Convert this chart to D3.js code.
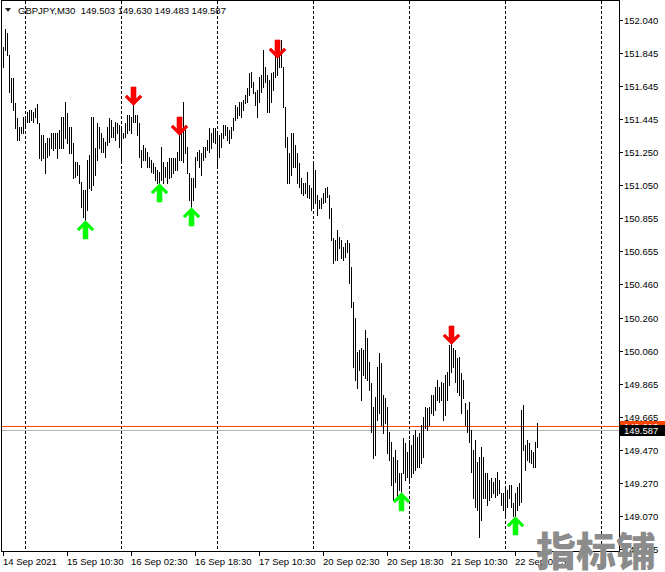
<!DOCTYPE html>
<html><head><meta charset="utf-8">
<script src="https://cdn.jsdelivr.net/npm/d3@7"></script>
<style>html,body{margin:0;padding:0;background:#fff;overflow:hidden}svg{display:block}</style>
</head><body>
<svg id="c" width="665" height="572"></svg>
<script>
// ---- data (GBPJPY M30, bar high / low) ----
const highs = [
151.878,151.986,151.962,151.831,151.693,151.693,151.543,151.454,151.400,151.400,
151.460,151.454,151.490,151.501,151.501,151.490,151.513,151.537,151.424,151.352,
151.352,151.304,151.334,151.334,151.364,151.364,151.364,151.364,151.382,151.460,
151.460,151.549,151.484,151.400,151.400,151.304,151.190,151.190,151.172,151.071,
151.023,151.023,151.202,151.232,151.460,151.460,151.274,151.424,151.400,151.364,
151.334,151.310,151.400,151.454,151.442,151.400,151.430,151.424,151.412,151.394,
151.364,151.424,151.472,151.472,151.460,151.531,151.472,151.472,151.424,151.262,
151.292,151.274,151.250,151.220,151.202,151.184,151.160,151.142,151.130,151.280,
151.190,151.160,151.190,151.214,151.214,151.214,151.214,151.250,151.352,151.424,
151.549,151.382,151.280,151.124,151.094,151.094,151.220,151.250,151.262,151.244,
151.280,151.280,151.322,151.394,151.364,151.394,151.394,151.364,151.352,151.364,
151.412,151.412,151.400,151.382,151.400,151.454,151.531,151.519,151.549,151.549,
151.561,151.591,151.633,151.723,151.729,151.669,151.609,151.621,151.699,151.711,
151.860,151.759,151.711,151.681,151.723,151.729,151.842,151.813,151.860,151.920,
151.759,151.519,151.340,151.244,151.364,151.364,151.292,151.244,151.184,151.094,
151.065,151.065,151.130,151.053,151.035,151.184,151.142,150.993,150.963,150.975,
151.005,151.035,151.041,150.993,150.915,150.735,150.723,150.783,150.741,150.723,
150.682,150.706,150.723,150.706,150.562,150.353,150.256,150.053,150.065,150.077,
150.065,150.185,150.137,149.993,149.868,149.724,149.784,149.964,150.047,149.987,
149.796,149.778,149.724,149.575,149.515,149.425,149.467,149.407,149.329,149.329,
149.539,149.509,149.455,149.527,149.497,149.557,149.587,149.545,149.569,149.616,
149.664,149.724,149.718,149.724,149.796,149.796,149.844,149.886,149.844,149.874,
149.868,149.916,149.934,150.095,150.101,150.077,150.065,150.017,150.023,149.928,
149.886,149.748,149.706,149.754,149.587,149.467,149.527,149.395,149.425,149.485,
149.425,149.329,149.329,149.287,149.299,149.275,149.299,149.335,149.287,149.210,
149.210,149.245,149.227,149.257,149.257,149.150,149.210,149.245,149.269,149.706,
149.736,149.497,149.527,149.509,149.467,149.455,149.515,149.630
];
const lows = [
151.759,151.860,151.831,151.609,151.549,151.501,151.394,151.322,151.322,151.364,
151.364,151.400,151.430,151.430,151.442,151.430,151.460,151.424,151.214,151.202,
151.214,151.124,151.220,151.232,151.274,151.262,151.274,151.214,151.274,151.274,
151.274,151.334,151.304,151.244,151.244,151.094,151.100,151.112,151.065,150.921,
150.861,150.843,150.903,151.035,151.023,151.053,151.112,151.202,151.274,151.250,
151.250,151.220,151.292,151.310,151.340,151.340,151.322,151.364,151.280,151.202,
151.334,151.340,151.364,151.382,151.364,151.430,151.430,151.352,151.220,151.160,
151.202,151.202,151.160,151.160,151.130,151.124,151.083,151.065,151.065,151.083,
151.065,151.100,151.065,151.094,151.100,151.124,151.142,151.142,151.202,151.202,
151.190,151.244,151.124,150.963,150.921,150.963,151.041,151.202,151.160,151.112,
151.202,151.220,151.262,151.250,151.274,151.310,151.304,151.160,151.220,151.280,
151.334,151.352,151.322,151.304,151.334,151.382,151.442,151.454,151.472,151.460,
151.501,151.543,151.549,151.591,151.639,151.603,151.531,151.460,151.549,151.609,
151.639,151.669,151.490,151.490,151.549,151.621,151.699,151.711,151.759,151.759,
151.519,151.280,151.065,151.065,151.112,151.160,151.160,151.065,151.041,151.005,
150.993,151.005,150.981,150.975,150.903,150.921,150.945,150.873,150.915,150.915,
150.945,150.951,150.981,150.855,150.723,150.586,150.604,150.604,150.676,150.616,
150.604,150.622,150.652,150.466,150.323,149.964,149.886,149.838,149.945,149.766,
149.916,149.898,149.886,149.826,149.575,149.419,149.437,149.646,149.688,149.616,
149.569,149.628,149.449,149.407,149.257,149.168,149.275,149.168,149.227,149.215,
149.329,149.287,149.305,149.287,149.305,149.329,149.347,149.365,149.365,149.389,
149.425,149.599,149.587,149.616,149.688,149.676,149.706,149.766,149.754,149.766,
149.646,149.676,149.766,149.856,149.934,149.964,149.874,149.814,149.796,149.688,
149.778,149.616,149.575,149.515,149.335,149.180,149.126,149.108,148.946,149.048,
149.180,149.180,149.138,149.168,149.186,149.210,149.186,149.198,149.210,149.138,
149.108,149.078,149.126,149.180,149.126,149.072,149.072,149.108,149.138,149.156,
149.467,149.347,149.407,149.395,149.389,149.365,149.365,149.483
];
const xLabels = ["14 Sep 2021","15 Sep 10:30","16 Sep 02:30","16 Sep 18:30","17 Sep 10:30",
                 "20 Sep 02:30","20 Sep 18:30","21 Sep 10:30","22 Sep 02:30"];
const xLabelBars = [0,32,64,96,128,160,192,224,256];
const gridBars = [11,59,107,155,203,251,299];   // day separators
const yTicks = [152.040,151.845,151.645,151.445,151.250,151.050,150.855,150.655,150.460,
                150.260,150.060,149.865,149.665,149.470,149.270,149.070,148.875];
const sellBars = [65,88,137,224];
const sellPrices = [151.531,151.352,151.813,150.101];
const buyBars = [41,78,94,199,256];
const buyPrices = [150.843,151.065,150.921,149.215,149.072];
const titleText = "GBPJPY,M30  149.503 149.630 149.483 149.587";
const bidPrice = 149.587, askPrice = 149.613;
const watermark = "指标铺";

// ---- drawing ----
const svg = d3.select("#c");
const FONT = "'Liberation Sans', Arial, sans-serif";
const x = d3.scaleLinear().domain([0, 308]).range([3, 619]);
const y = d3.scaleLinear().domain([148.875, 152.040]).range([549, 20]);
const R = v => Math.round(v);

// grid
svg.append("g").selectAll("line").data(gridBars).join("line")
  .attr("x1", d => x(d) + 0.5).attr("x2", d => x(d) + 0.5)
  .attr("y1", 1).attr("y2", 551)
  .attr("stroke", "#000").attr("stroke-width", 1).attr("stroke-dasharray", "3,2")
  .attr("shape-rendering", "crispEdges");

// current price lines
svg.append("line").attr("x1", 2).attr("x2", 619)
  .attr("y1", R(y(askPrice)) + 0.5).attr("y2", R(y(askPrice)) + 0.5)
  .attr("stroke", "#ff4500").attr("shape-rendering", "crispEdges");
svg.append("line").attr("x1", 2).attr("x2", 619)
  .attr("y1", R(y(bidPrice)) + 0.5).attr("y2", R(y(bidPrice)) + 0.5)
  .attr("stroke", "#b4b4b4").attr("shape-rendering", "crispEdges");

// bars
svg.append("g").selectAll("rect").data(highs).join("rect")
  .attr("x", (d, i) => x(i))
  .attr("y", d => R(y(d)))
  .attr("width", 1)
  .attr("height", (d, i) => Math.max(1, R(y(lows[i])) - R(y(d)) + 1))
  .attr("fill", "#000").attr("shape-rendering", "crispEdges");

// arrows
const downArrow = "M-2,-18 H3 V-6 L7,-10 L9,-8 L0.5,0.5 L-8,-8 L-6,-10 L-2,-6 Z";
const upArrow = "M-2,18 H3 V6 L7,10 L9,8 L0.5,-0.5 L-8,8 L-6,10 L-2,6 Z";
svg.append("g").selectAll("path").data(sellBars).join("path")
  .attr("d", downArrow)
  .attr("transform", (d, i) => `translate(${x(d)},${R(y(sellPrices[i]))})`)
  .attr("fill", "#ff0000").attr("stroke", "#e00000").attr("stroke-width", 0.6);
svg.append("g").selectAll("path").data(buyBars).join("path")
  .attr("d", upArrow)
  .attr("transform", (d, i) => `translate(${x(d)},${R(y(buyPrices[i])) + 1})`)
  .attr("fill", "#00ff00").attr("stroke", "#22ee22").attr("stroke-width", 0.6);

// frame / axes
const frame = svg.append("g").attr("stroke", "#000").attr("shape-rendering", "crispEdges");
frame.append("line").attr("x1", 1.5).attr("x2", 1.5).attr("y1", 0).attr("y2", 552);
frame.append("line").attr("x1", 1).attr("x2", 620).attr("y1", 0.5).attr("y2", 0.5);
frame.append("line").attr("x1", 619.5).attr("x2", 619.5).attr("y1", 0).attr("y2", 552);
frame.append("line").attr("x1", 1).attr("x2", 620).attr("y1", 551.5).attr("y2", 551.5);

// y axis ticks & labels
const ya = svg.append("g");
ya.selectAll("line").data(yTicks).join("line")
  .attr("x1", 620).attr("x2", 623)
  .attr("y1", d => R(y(d)) + 0.5).attr("y2", d => R(y(d)) + 0.5)
  .attr("stroke", "#000").attr("shape-rendering", "crispEdges");
ya.selectAll("text").data(yTicks).join("text")
  .attr("x", 624).attr("y", d => R(y(d)) + 4)
  .attr("font-family", FONT).attr("font-size", "9.5px").attr("fill", "#000")
  .text(d => d.toFixed(3));

// price label boxes
function priceBox(p, fill, txtFill) {
  const cy = R(y(p));
  svg.append("rect").attr("x", 620).attr("y", cy - 5).attr("width", 45).attr("height", 11)
    .attr("fill", fill).attr("shape-rendering", "crispEdges");
  svg.append("text").attr("x", 624).attr("y", cy + 4)
    .attr("font-family", FONT).attr("font-size", "9.5px").attr("fill", txtFill)
    .text(p.toFixed(3));
}
priceBox(askPrice, "#ff4500", "#fff");
priceBox(bidPrice, "#000", "#fff");

// x axis ticks & labels
const xa = svg.append("g");
xa.selectAll("line").data(xLabelBars).join("line")
  .attr("x1", d => x(d) + 0.5).attr("x2", d => x(d) + 0.5)
  .attr("y1", 552).attr("y2", 556)
  .attr("stroke", "#000").attr("shape-rendering", "crispEdges");
xa.selectAll("text").data(xLabelBars).join("text")
  .attr("x", d => x(d)).attr("y", 565)
  .attr("font-family", FONT).attr("font-size", "9.5px").attr("fill", "#000")
  .text((d, i) => xLabels[i]);

// title
svg.append("path").attr("d", "M5,8 L11,8 L8,12 Z").attr("fill", "#202020");
svg.append("text").attr("x", 18).attr("y", 14).attr("xml:space", "preserve")
  .style("white-space", "pre")
  .attr("font-family", FONT).attr("font-size", "9.5px").attr("fill", "#000")
  .text(titleText);

// watermark
svg.append("text").attr("x", 536).attr("y", 566)
  .attr("font-family", "'Noto Sans CJK SC', sans-serif").attr("font-weight", 900)
  .attr("font-size", "40px").attr("fill", "#8c8c8c")
  .text(watermark);
</script>
</body></html>
